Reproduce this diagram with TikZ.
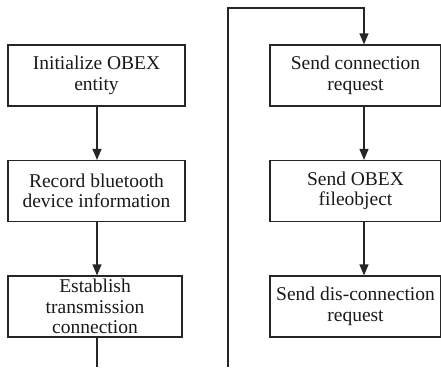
\documentclass[tikz,border=0pt]{standalone}
\usepackage{fontspec}
\setmainfont{Liberation Serif}
\usetikzlibrary{arrows.meta}
\begin{document}
\begin{tikzpicture}[x=1pt,y=-1pt,
  box/.style={draw=black!85, line width=1.2pt, minimum height=61pt, inner sep=0pt,
    align=center, font=\fontsize{19.5}{20.5}\selectfont, text=black!90},
  arr/.style={draw=black!85, line width=1.2pt, -{Triangle[width=9pt,length=11pt]}},
  ln/.style={draw=black!85, line width=1.2pt}]
\useasboundingbox (0,0) rectangle (441,367);
\node[box, minimum width=177pt] (l1) at (96.5,75.5) {Initialize OBEX\\entity};
\node[box, minimum width=177pt] (l2) at (96.5,191) {Record bluetooth\\device information};
\node[box, minimum width=174pt] (l3) at (95,306.5) {Establish\\transmission\\connection};
\node[box, minimum width=171pt] (r1) at (355.5,75.5) {Send connection\\request};
\node[box, minimum width=171pt] (r2) at (355.5,191) {Send OBEX\\fileobject};
\node[box, minimum width=171pt] (r3) at (355.5,306.5) {Send dis-connection\\request};
\coordinate (lx) at (97,0);
\coordinate (rx) at (364,0);
\coordinate (bl) at (97,367);
\coordinate (lb) at (228,367);
\coordinate (lt) at (228,8);
\draw[arr] (l1.south -| lx) -- (l2.north -| lx);
\draw[arr] (l2.south -| lx) -- (l3.north -| lx);
\draw[ln] (l3.south -| lx) -- (bl);
\draw[arr] (lb) -- (lt) -- (lt -| rx) -- (r1.north -| rx);
\draw[arr] (r1.south -| rx) -- (r2.north -| rx);
\draw[arr] (r2.south -| rx) -- (r3.north -| rx);
\end{tikzpicture}
\end{document}
